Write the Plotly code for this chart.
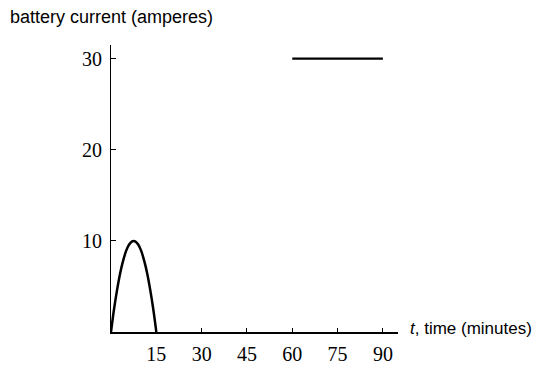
import plotly.graph_objects as go

# charging pulse at the start
arch_t = [0, 1, 2, 3, 4, 5, 6, 7, 7.5, 8, 9, 10, 11, 12, 13, 14, 15]
arch_i = [0, 2.5, 4.6, 6.4, 7.8, 8.9, 9.6, 9.95, 10, 9.95, 9.6, 8.9, 7.8, 6.4, 4.6, 2.5, 0]

# steady draw later on
flat_t = [60, 90]
flat_i = [30, 30]

x_ticks = [15, 30, 45, 60, 75, 90]
y_ticks = [10, 20, 30]

fig = go.Figure()
fig.add_trace(go.Scatter(x=arch_t, y=arch_i, mode='lines',
                         line=dict(color='black', width=2.5, shape='spline')))
fig.add_trace(go.Scatter(x=flat_t, y=flat_i, mode='lines',
                         line=dict(color='black', width=2.2)))

serif = dict(family='Liberation Serif', size=20, color='black')

fig.update_xaxes(range=[0, 95], showline=True, linecolor='black', linewidth=2,
                 showgrid=False, zeroline=False, ticks='inside', ticklen=4,
                 tickcolor='black', tickwidth=1, tickvals=x_ticks,
                 tickfont=serif, ticklabelstandoff=3)
fig.update_yaxes(range=[0, 31.5], showline=True, linecolor='black', linewidth=1,
                 showgrid=False, zeroline=False, ticks='inside', ticklen=5,
                 tickcolor='black', tickwidth=1, tickvals=y_ticks,
                 tickfont=serif, ticklabelstandoff=4)

fig.add_annotation(text='battery current (amperes)', xref='paper', yref='paper',
                   x=-103 / 287, y=1.098, xanchor='left', yanchor='middle', showarrow=False,
                   font=dict(family='Liberation Sans', size=18, color='black'))
fig.add_annotation(text='<i>t</i>, time (minutes)', xref='paper', yref='y',
                   x=1.035, y=0.4, xanchor='left', yanchor='middle', showarrow=False,
                   font=dict(family='Liberation Sans', size=17, color='black'))

fig.update_layout(width=534, height=358, showlegend=False,
                  plot_bgcolor='white', paper_bgcolor='white',
                  margin=dict(l=103, r=144, t=37, b=34, autoexpand=False))

fig.write_html("out.html")
